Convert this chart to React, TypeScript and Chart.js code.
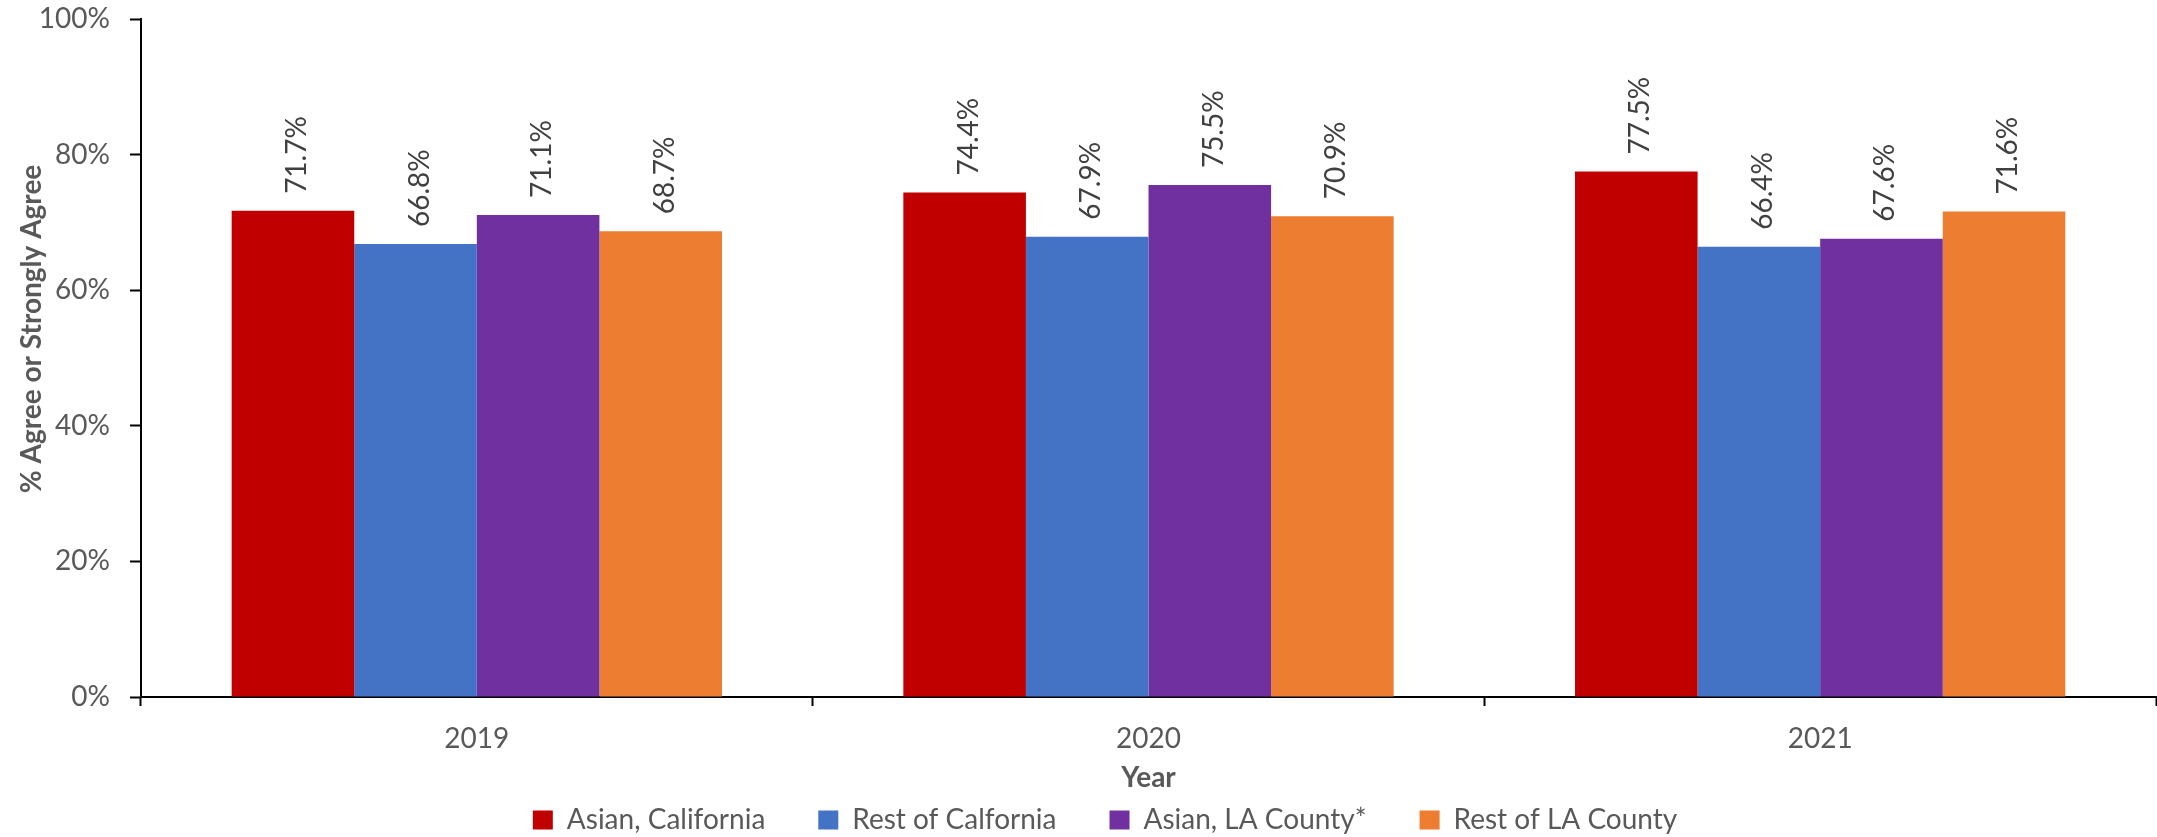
import React, { useEffect, useRef } from "react";
import { Chart, registerables } from "chart.js";

Chart.register(...registerables);

// Survey share agreeing, by year and population group (percent)
const years = ["2019", "2020", "2021"];
const asianCalifornia = [71.7, 74.4, 77.5];
const restOfCalifornia = [66.8, 67.9, 66.4];
const asianLACounty = [71.1, 75.5, 67.6];
const restOfLACounty = [68.7, 70.9, 71.6];

const seriesNames = ["Asian, California", "Rest of Calfornia", "Asian, LA County*", "Rest of LA County"];
const seriesValues = [asianCalifornia, restOfCalifornia, asianLACounty, restOfLACounty];
const seriesColors = ["#C00000", "#4472C4", "#7030A0", "#ED7D31"];

const yTickValues = [0, 20, 40, 60, 80, 100];
const yTitle = "% Agree or Strongly Agree";
const xTitle = "Year";

const FONT = "Lato, 'Open Sans', sans-serif";
const TEXT_GRAY = "#595959";
const LABEL_GRAY = "#404040";

const W = 2157;
const H = 837;

// Rotated value labels sitting above each bar
const valueLabels = {
  id: "valueLabels",
  afterDatasetsDraw(chart: any) {
    const ctx = chart.ctx;
    ctx.save();
    ctx.font = `28px ${FONT}`;
    ctx.fillStyle = LABEL_GRAY;
    ctx.textAlign = "left";
    ctx.textBaseline = "middle";
    chart.data.datasets.forEach((ds: any, di: number) => {
      const meta = chart.getDatasetMeta(di);
      meta.data.forEach((bar: any, i: number) => {
        const v = ds.data[i] as number;
        ctx.save();
        ctx.translate(bar.x + 4, bar.y - 17);
        ctx.rotate(-Math.PI / 2);
        ctx.fillText(v.toFixed(1) + "%", 0, 0);
        ctx.restore();
      });
    });
    ctx.restore();
  },
};

// Legend row is centred between x=54 and the right edge
const legendSpan = {
  id: "legendSpan",
  afterLayout(chart: any) {
    if (chart.legend) chart.legend.left = 54;
  },
};

// Axis titles placed relative to the plot area
const axisTitles = {
  id: "axisTitles",
  afterDraw(chart: any) {
    const { ctx, chartArea } = chart;
    ctx.save();
    ctx.font = `bold 28px ${FONT}`;
    ctx.fillStyle = TEXT_GRAY;
    ctx.textAlign = "center";
    ctx.textBaseline = "alphabetic";
    // x title
    ctx.fillText(xTitle, (chartArea.left + chartArea.right) / 2, chartArea.bottom + 90);
    // y title
    ctx.translate(41, chartArea.top + 310);
    ctx.rotate(-Math.PI / 2);
    ctx.fillText(yTitle, 0, 0);
    ctx.restore();
  },
};

export default function App() {
  const canvasRef = useRef<HTMLCanvasElement | null>(null);

  useEffect(() => {
    if (!canvasRef.current) return;
    const chart = new Chart(canvasRef.current, {
      type: "bar",
      data: {
        labels: years,
        datasets: seriesNames.map((name, i) => ({
          label: name,
          data: seriesValues[i],
          backgroundColor: seriesColors[i],
          borderWidth: 0,
          categoryPercentage: 0.73,
          barPercentage: 1,
        })),
      },
      options: {
        animation: false,
        responsive: false,
        devicePixelRatio: 1,
        layout: { padding: { left: 0, right: 1, top: 19, bottom: -7 } },
        plugins: {
          tooltip: { enabled: false },
          legend: {
            position: "bottom",
            labels: {
              boxWidth: 20,
              boxHeight: 19,
              padding: 53,
              color: TEXT_GRAY,
              font: { family: FONT, size: 28 },
            },
          },
        },
        scales: {
          x: {
            grid: {
              display: true,
              drawOnChartArea: false,
              drawTicks: true,
              tickLength: 9,
              tickColor: "#000000",
              tickWidth: 2,
              offset: true,
            },
            border: { display: true, color: "#000000", width: 2 },
            ticks: {
              color: TEXT_GRAY,
              font: { family: FONT, size: 28 },
              padding: 16,
            },
            afterFit(scale: any) {
              scale.height = 56;
              scale.paddingLeft = 0;
              scale.paddingRight = 0;
            },
          },
          y: {
            min: 0,
            max: 100,
            afterBuildTicks(scale: any) {
              scale.ticks = yTickValues.map((v) => ({ value: v }));
            },
            grid: {
              display: true,
              drawOnChartArea: false,
              drawTicks: true,
              tickLength: 11,
              tickColor: "#000000",
              tickWidth: 2,
            },
            border: { display: true, color: "#000000", width: 2 },
            ticks: {
              color: TEXT_GRAY,
              font: { family: FONT, size: 28 },
              padding: 20,
              callback: (v: any) => `${v}%`,
            },
            afterFit(scale: any) {
              scale.width = 141;
              scale.paddingTop = 0;
              scale.paddingBottom = 0;
            },
          },
        },
      },
      plugins: [valueLabels, legendSpan, axisTitles],
    });
    return () => chart.destroy();
  }, []);

  return (
    <div style={{ position: "absolute", left: 0, top: 0, width: W, height: H, background: "#ffffff" }}>
      <canvas ref={canvasRef} width={W} height={H} style={{ display: "block" }} />
    </div>
  );
}
